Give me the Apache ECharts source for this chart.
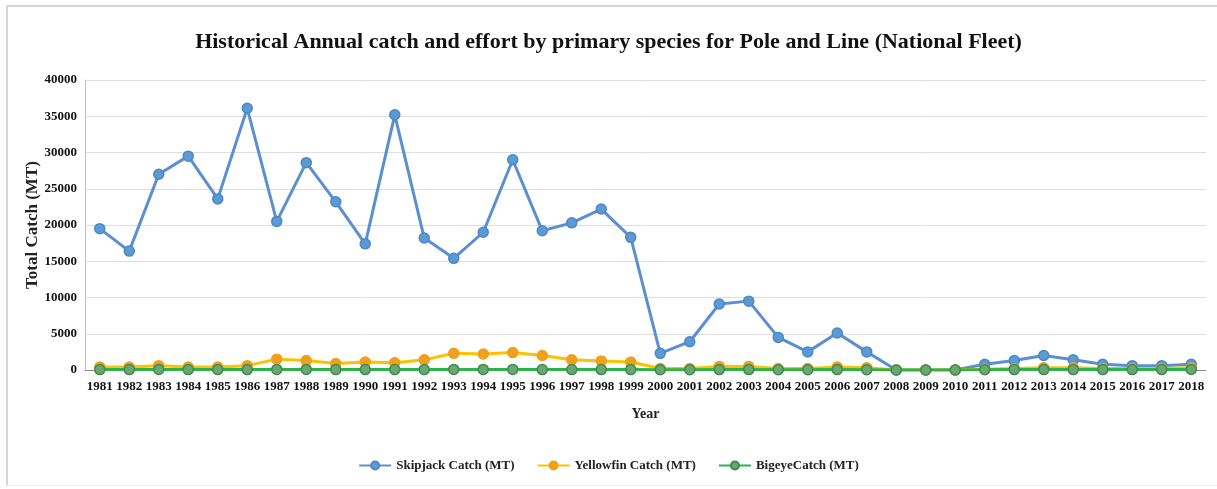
<!DOCTYPE html>
<html>
<head>
<meta charset="utf-8">
<script src="https://cdn.jsdelivr.net/npm/echarts@6/dist/echarts.min.js"></script>
<style>
  html, body { margin: 0; padding: 0; background: #fff; }
  #frame { position: absolute; left: 6px; top: 5px; width: 1211px; height: 481px; border-left: 2px solid #d6d6d6; border-top: 2px solid #d6d6d6; border-bottom: 1px solid #f0f0f0; box-sizing: border-box; }
  #chart { position: absolute; left: 0; top: 0; width: 1217px; height: 489px; }
</style>
</head>
<body>
<div id="frame"></div>
<div id="chart"></div>
<script>
// Pole and Line national fleet: annual catch (MT) by primary species
const years = ['1981','1982','1983','1984','1985','1986','1987','1988','1989','1990',
  '1991','1992','1993','1994','1995','1996','1997','1998','1999','2000',
  '2001','2002','2003','2004','2005','2006','2007','2008','2009','2010',
  '2011','2012','2013','2014','2015','2016','2017','2018'];

const skipjack = [19500, 16400, 27000, 29500, 23600, 36100, 20500, 28600, 23200, 17400,
  35200, 18200, 15400, 19000, 29000, 19200, 20300, 22200, 18300, 2300,
  3900, 9100, 9500, 4500, 2500, 5100, 2500, 0, 0, 0,
  800, 1300, 2000, 1400, 800, 600, 600, 800];

const yellowfin = [400, 400, 600, 400, 400, 600, 1500, 1300, 900, 1100,
  1000, 1400, 2300, 2200, 2400, 2000, 1400, 1250, 1100, 200,
  200, 500, 500, 200, 200, 400, 300, 0, 0, 0,
  100, 200, 300, 300, 200, 200, 200, 300];

const bigeye = [60, 60, 80, 60, 60, 60, 80, 80, 60, 60,
  60, 60, 80, 80, 80, 60, 60, 60, 60, 40,
  40, 60, 60, 40, 40, 60, 40, 0, 0, 0,
  40, 60, 60, 60, 60, 60, 60, 80];

const yTicks = { min: 0, max: 40000, interval: 5000 };

const serif = '"Liberation Serif", "DejaVu Serif", serif';

const chart = echarts.init(document.getElementById('chart'), null, { renderer: 'canvas' });

function lineSeries(name, data, lineColor, markerColor, borderColor, z) {
  return {
    name: name,
    type: 'line',
    data: data,
    symbol: 'circle',
    symbolSize: 10,
    z: z,
    lineStyle: { color: lineColor, width: 3 },
    itemStyle: { color: markerColor, borderColor: borderColor, borderWidth: 1.5 },
    emphasis: { disabled: true }
  };
}

chart.setOption({
  animation: false,
  backgroundColor: 'transparent',
  title: {
    text: 'Historical Annual catch and effort by primary species for Pole and Line (National Fleet)',
    left: 'center',
    top: 26,
    textStyle: { fontFamily: serif, fontWeight: 'bold', fontSize: 22, color: '#111' }
  },
  legend: {
    bottom: 12,
    left: 'center',
    itemWidth: 32,
    itemHeight: 10,
    itemGap: 22,
    textStyle: { fontFamily: serif, fontWeight: 'bold', fontSize: 13, color: '#222' },
    data: ['Skipjack Catch (MT)', 'Yellowfin Catch (MT)', 'BigeyeCatch (MT)']
  },
  grid: { left: 85, right: 11, top: 80, bottom: 119, containLabel: false },
  xAxis: {
    type: 'category',
    data: years,
    boundaryGap: true,
    name: 'Year',
    nameLocation: 'middle',
    nameGap: 37,
    nameTextStyle: { fontFamily: serif, fontWeight: 'bold', fontSize: 14, color: '#222' },
    axisLine: { lineStyle: { color: '#8c8c8c', width: 1 } },
    axisTick: { show: false },
    axisLabel: { fontFamily: serif, fontWeight: 'bold', fontSize: 13, color: '#111', interval: 0, margin: 10 }
  },
  yAxis: {
    type: 'value',
    min: yTicks.min,
    max: yTicks.max,
    interval: yTicks.interval,
    name: 'Total Catch (MT)',
    nameLocation: 'middle',
    nameGap: 44,
    nameRotate: 90,
    nameMoveOverlap: false,
    nameTextStyle: { fontFamily: serif, fontWeight: 'bold', fontSize: 17, color: '#222' },
    axisLine: { show: true, lineStyle: { color: '#bfbfbf', width: 1 } },
    axisTick: { show: false },
    axisLabel: { fontFamily: serif, fontWeight: 'bold', fontSize: 13, color: '#111', margin: 8,
      formatter: function (v) { return String(v); } },
    splitLine: { lineStyle: { color: '#dedede', width: 1 } }
  },
  series: [
    lineSeries('Skipjack Catch (MT)', skipjack, '#5b8fcf', '#5b9bd5', '#4f86c6', 3),
    lineSeries('Yellowfin Catch (MT)', yellowfin, '#ffc000', '#f0a01c', '#f0a01c', 4),
    lineSeries('BigeyeCatch (MT)', bigeye, '#2db34a', '#6aa872', '#3f8a4f', 5)
  ]
});
</script>
</body>
</html>
